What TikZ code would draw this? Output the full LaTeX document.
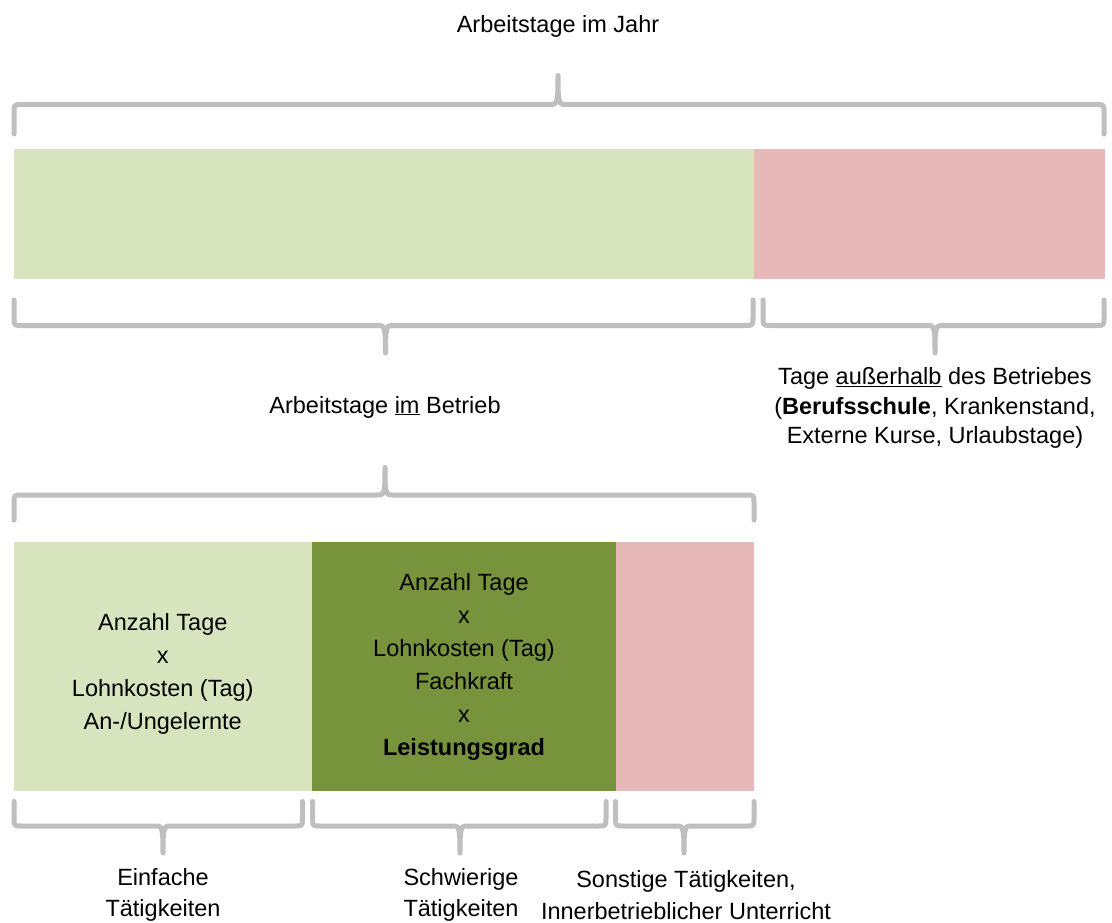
\documentclass[tikz,border=0pt]{standalone}
\usepackage{fontspec}
\setmainfont{Liberation Sans}
\usepackage{tikz}
\usetikzlibrary{positioning, calc}
\definecolor{hellgruen}{HTML}{D7E4BD}
\definecolor{dunkelgruen}{HTML}{77933C}
\definecolor{rosa}{HTML}{E6B9B8}
\definecolor{klammergrau}{HTML}{BFBFBF}

% brace: x1, x2, tip x, end y, middle y, tip y
\newcommand{\klammer}[6]{%
  \draw[brace] (#1,#4) -- ($(#1,#5)!8pt!(#1,#4)$) .. controls (#1,#5) .. (#1+8,#5)
    -- (#3-8,#5) .. controls (#3-1,#5) and (#3,#5) .. (#3,#6)
    .. controls (#3,#5) and (#3+1,#5) .. (#3+8,#5)
    -- (#2-8,#5) .. controls (#2,#5) .. ($(#2,#5)!8pt!(#2,#4)$) -- (#2,#4);}

\begin{document}
\begin{tikzpicture}[
    x=1pt, y=-1pt,
    bar/.style={rectangle, inner sep=0pt, outer sep=0pt, anchor=north west},
    brace/.style={draw=klammergrau, line width=5pt, line cap=round, line join=round},
    label/.style={align=center, inner sep=0pt, font=\fontsize{23.5}{29.5}\selectfont},
    boxtext/.style={align=center, inner sep=0pt, font=\fontsize{23.5}{33}\selectfont}
]
\useasboundingbox (0,0) rectangle (1112,923);

% top row
\node[label] (jahr) at (558,26) {Arbeitstage im Jahr};
\klammer{14}{1104}{558}{134}{104.5}{75.5}
\node[bar, fill=hellgruen, minimum width=740.5pt, minimum height=129pt] (betrieb) at (13.5,149.5) {};
\node[bar, fill=rosa, minimum width=351pt, minimum height=129pt] (aussen) at (754,149.5) {};

\klammer{14}{753}{385.5}{300}{325.5}{353}
\klammer{763}{1104}{935}{300}{325.5}{353}
\node[label] (imbetrieb) at (385,407) {Arbeitstage \underline{im} Betrieb};
\node[label] (ausserhalb) at (935,408) {Tage \underline{außerhalb} des Betriebes\\(\textbf{Berufsschule}, Krankenstand,\\Externe Kurse, Urlaubstage)};

% bottom row
\klammer{14}{754}{385}{520}{495}{467.5}
\node[bar, fill=hellgruen, minimum width=298.5pt, minimum height=249pt] (einfach) at (13.5,542) {};
\node[bar, fill=dunkelgruen, minimum width=304pt, minimum height=249pt] (schwierig) at (312,542) {};
\node[bar, fill=rosa, minimum width=138pt, minimum height=249pt] (sonstig) at (616,542) {};

\node[boxtext, yshift=-7pt] (einfachtext) at (einfach.center) {Anzahl Tage\\x\\Lohnkosten (Tag)\\An-/Ungelernte};
\node[boxtext] (schwierigtext) at (schwierig.center) {Anzahl Tage\\x\\Lohnkosten (Tag)\\Fachkraft\\x\\\textbf{Leistungsgrad}};

\klammer{14}{302.5}{163}{801.5}{826}{853}
\klammer{312.5}{606}{460}{801.5}{826}{853}
\klammer{615.5}{754}{684}{801.5}{826}{853}

\node[label, font=\fontsize{23.5}{31.5}\selectfont] (einfachlabel) at (163,895) {Einfache\\Tätigkeiten};
\node[label, font=\fontsize{23.5}{31.5}\selectfont] (schwieriglabel) at (461,895) {Schwierige\\Tätigkeiten};
\node[label, font=\fontsize{23.5}{31.5}\selectfont] (sonstiglabel) at (686,895) {Sonstige Tätigkeiten,\\Innerbetrieblicher Unterricht};
\end{tikzpicture}
\end{document}
